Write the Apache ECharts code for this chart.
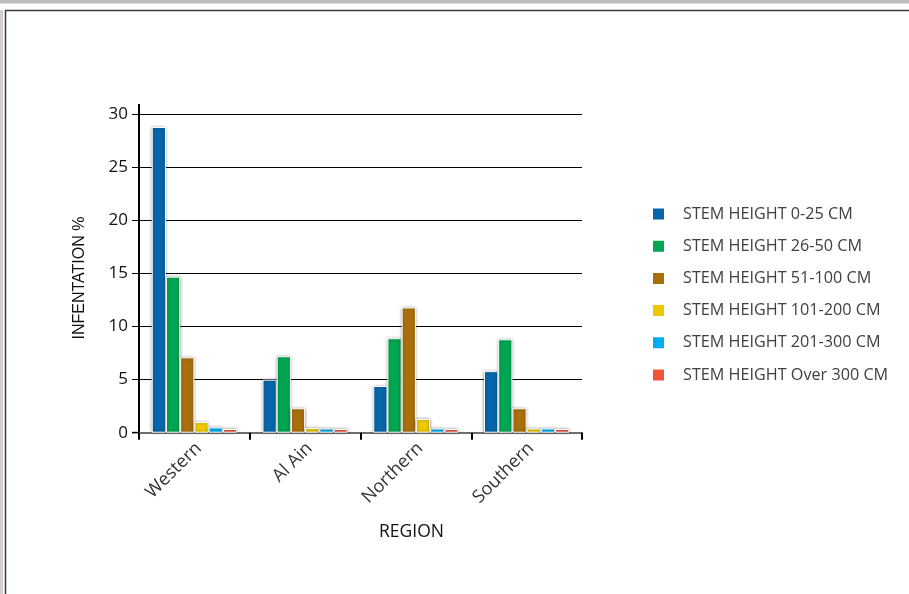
<!DOCTYPE html>
<html>
<head>
<meta charset="utf-8">
<script src="https://cdn.jsdelivr.net/npm/echarts@6/dist/echarts.min.js"></script>
<style>
  html, body { margin: 0; padding: 0; background: #fff; }
  #chart { width: 909px; height: 594px; }
</style>
</head>
<body>
<div id="chart"></div>
<script>
// Infestation by region and stem height class
const regions = ['Western', 'Al Ain', 'Northern', 'Southern'];
const seriesNames = [
  'STEM HEIGHT 0-25 CM',
  'STEM HEIGHT 26-50 CM',
  'STEM HEIGHT 51-100 CM',
  'STEM HEIGHT 101-200 CM',
  'STEM HEIGHT 201-300 CM',
  'STEM HEIGHT Over 300 CM'
];
const h0to25    = [28.8, 5.0, 4.4, 5.8];
const h26to50   = [14.7, 7.2, 8.9, 8.8];
const h51to100  = [7.1, 2.3, 11.8, 2.3];
const h101to200 = [1.0, 0.45, 1.3, 0.4];
const h201to300 = [0.5, 0.4, 0.4, 0.4];
const hOver300  = [0.35, 0.35, 0.35, 0.35];
const yTicks = [0, 5, 10, 15, 20, 25, 30];

const seriesValues = [h0to25, h26to50, h51to100, h101to200, h201to300, hOver300];
const colors = ['#0766a9', '#00a651', '#a86f0c', '#ecc900', '#00aeef', '#f0553a'];

const chart = echarts.init(document.getElementById('chart'));

const series = seriesNames.map((name, i) => ({
  name: name,
  type: 'bar',
  data: seriesValues[i],
  barGap: '0%',
  barCategoryGap: '23%',
  itemStyle: {
    color: colors[i],
    borderColor: '#ffffff',
    borderWidth: 1,
    shadowColor: 'rgba(0,0,0,0.4)',
    shadowBlur: 3
  }
}));

chart.setOption({
  backgroundColor: '#ffffff',
  animation: false,
  color: colors,
  grid: { left: 139, right: 327, top: 114.3, bottom: 161.3, containLabel: false },
  legend: {
    orient: 'vertical',
    left: 651,
    top: 204,
    padding: 0,
    itemWidth: 13,
    itemHeight: 13,
    itemGap: 12.2,
    icon: 'rect',
    data: seriesNames,
    textStyle: {
      fontFamily: "'Open Sans', sans-serif",
      fontSize: 16.2,
      color: '#404040',
      lineHeight: 20,
      padding: [0, 0, 0, 13]
    }
  },
  xAxis: {
    type: 'category',
    data: regions,
    name: 'REGION',
    nameLocation: 'middle',
    nameGap: 90,
    nameTextStyle: {
      fontFamily: "'Open Sans', sans-serif",
      fontSize: 17.5,
      color: '#111',
      padding: [0, 0, 0, 102]
    },
    axisLine: { show: true, lineStyle: { color: '#6e6e6e', width: 2 } },
    axisTick: { show: true, length: 7, lineStyle: { color: '#000', width: 2 } },
    axisLabel: {
      rotate: 45,
      margin: 17,
      padding: [0, -6, 0, 0],
      fontFamily: "'Open Sans', sans-serif",
      fontSize: 18,
      color: '#333'
    }
  },
  yAxis: {
    type: 'value',
    min: 0,
    max: 30,
    interval: 5,
    name: 'INFENTATION %',
    nameLocation: 'middle',
    nameRotate: 90,
    nameGap: 51,
    nameTextStyle: {
      fontFamily: "'Liberation Sans', Arial, sans-serif",
      fontSize: 16,
      color: '#111',
      padding: [0, 9, 0, 0]
    },
    axisLine: { show: true, lineStyle: { color: '#000', width: 2 } },
    axisTick: { show: true, length: 7, lineStyle: { color: '#000', width: 1 } },
    splitLine: { show: true, lineStyle: { color: '#000', width: 1 } },
    axisLabel: {
      margin: 11,
      fontFamily: "'Open Sans', sans-serif",
      fontSize: 17,
      color: '#111',
      customValues: yTicks
    }
  },
  graphic: [
    // window chrome around the plot
    { type: 'rect', shape: { x: 0, y: 0, width: 909, height: 3.5 }, style: { fill: '#bdbdbd' }, silent: true },
    { type: 'rect', shape: { x: 0, y: 10, width: 3, height: 584 }, style: { fill: '#d6ccd4' }, silent: true },
    { type: 'line', shape: { x1: 5, y1: 10.5, x2: 909, y2: 10.5 }, style: { stroke: '#3a3a3a', lineWidth: 1.5 }, silent: true },
    { type: 'line', shape: { x1: 5.5, y1: 10, x2: 5.5, y2: 594 }, style: { stroke: '#3a3a3a', lineWidth: 1.5 }, silent: true },
    // axis line overhangs
    { type: 'line', shape: { x1: 139, y1: 104, x2: 139, y2: 115 }, style: { stroke: '#000', lineWidth: 2 }, silent: true },
    { type: 'line', shape: { x1: 132, y1: 432.7, x2: 139, y2: 432.7 }, style: { stroke: '#6e6e6e', lineWidth: 2 }, silent: true }
  ],
  series: series
});
</script>
</body>
</html>
